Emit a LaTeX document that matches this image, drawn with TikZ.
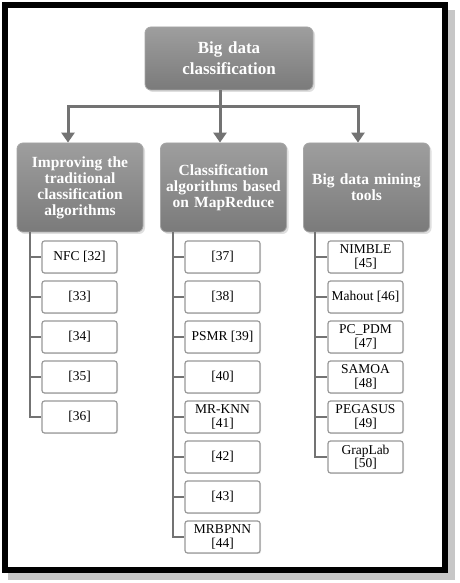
\documentclass[tikz,border=0pt]{standalone}
\usepackage{fontspec}
\setmainfont{Liberation Serif}
\usetikzlibrary{arrows.meta,shadows}
\begin{document}
\begin{tikzpicture}[x=1pt,y=1pt,
    head/.style={draw=black!35, line width=0.8pt, rounded corners=6pt,
      top color=black!38, bottom color=black!52, text=white,
      font=\fontsize{15.5}{16}\selectfont\bfseries, align=center,
      text width=120pt, inner sep=3pt, minimum height=89pt,
      drop shadow={opacity=0.25, shadow xshift=2pt, shadow yshift=-2pt}},
    leaf/.style={draw=black!40, line width=1.2pt, rounded corners=2.5pt, fill=white,
      minimum width=75pt, minimum height=32pt, inner sep=0.5pt, align=center,
      font=\fontsize{13.5}{13.5}\selectfont,
      drop shadow={opacity=0.2, shadow xshift=1pt, shadow yshift=-1pt}},
    link/.style={draw=black!55, line width=3pt},
    branch/.style={draw=black!55, line width=1.8pt},
    arr/.style={link, -{Triangle[width=13pt,length=10pt]}}]
  \useasboundingbox (0,0) rectangle (459,583);
  \fill[black!22] (8,3) rectangle (455,573);
  \draw[line width=6pt, fill=white] (5,13) rectangle (445,578);

  \node[head, text width=162pt, minimum height=63pt, font=\fontsize{17}{21}\selectfont\bfseries]
    (top) at (229,524.5) {Big data\\classification};
  \node[head] (h1) at (80,395.5) {Improving the\\traditional\\classification\\algorithms};
  \node[head] (h2) at (223.5,395.5) {Classification\\algorithms based\\on MapReduce};
  \node[head] (h3) at (366.5,395.5) {Big data mining\\tools};

  \coordinate (b) at (220,476);
  \draw[link] ([xshift=-9pt]top.south) -- (b);
  \draw[link, line cap=rect] ([xshift=-12pt]h1.north |- b) -- ([xshift=-8.5pt]h3.north |- b);
  \draw[arr] ([xshift=-12pt]h1.north |- b) -- ([xshift=-12pt]h1.north);
  \draw[arr] ([xshift=-3.5pt]h2.north |- b) -- ([xshift=-3.5pt]h2.north);
  \draw[arr] ([xshift=-8.5pt]h3.north |- b) -- ([xshift=-8.5pt]h3.north);

  \foreach \t [count=\i from 0] in {{NFC [32]},{[33]},{[34]},{[35]},{[36]}} {
    \node[leaf] (a\i) at (79.5,{326-40*\i}) {\t};
    \draw[branch] ([xshift=13pt]h1.south west) |- (a\i.west);
  }
  \foreach \t [count=\i from 0] in {{[37]},{[38]},{PSMR [39]},{[40]},{MR-KNN\\{[41]}},{[42]},{[43]},{MRBPNN\\{[44]}}} {
    \node[leaf] (m\i) at (222.5,{326-40*\i}) {\t};
    \draw[branch] ([xshift=13pt]h2.south west) |- (m\i.west);
  }
  \foreach \t [count=\i from 0] in {{NIMBLE\\{[45]}},{Mahout [46]},{PC\_PDM\\{[47]}},{SAMOA\\{[48]}},{PEGASUS\\{[49]}},{GrapLab\\{[50]}}} {
    \node[leaf] (t\i) at (365.5,{326-40*\i}) {\t};
    \draw[branch] ([xshift=12pt]h3.south west) |- (t\i.west);
  }
\end{tikzpicture}
\end{document}
